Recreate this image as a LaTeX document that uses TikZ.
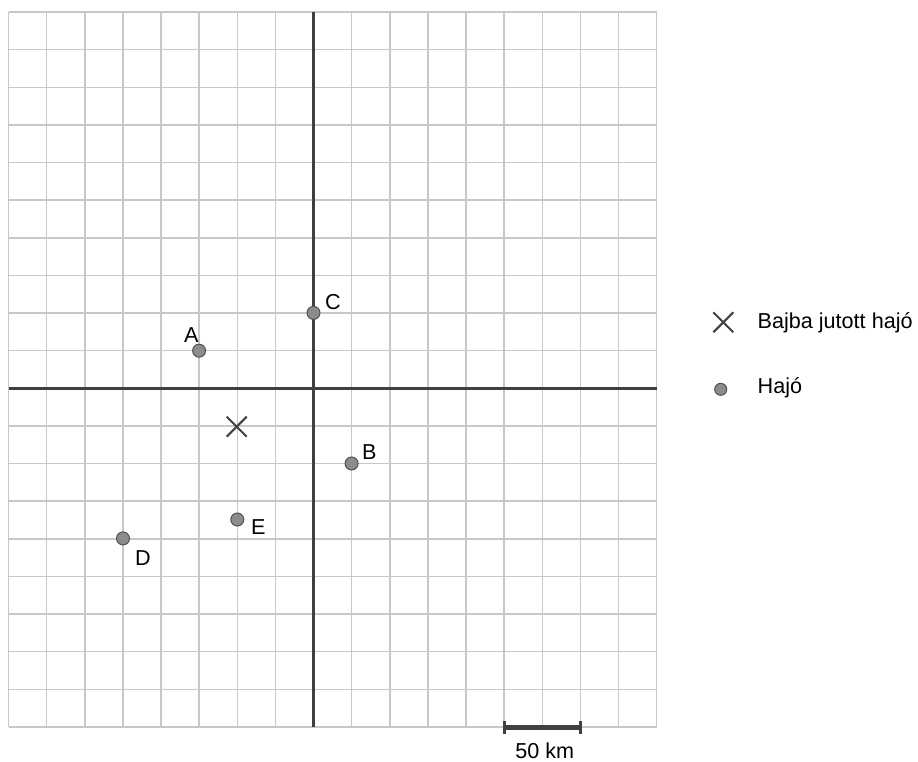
\documentclass[tikz,border=0pt]{standalone}
\usepackage{fontspec}
\setmainfont{Liberation Sans}
\definecolor{gridc}{HTML}{C8C8C8}
\definecolor{axisc}{HTML}{404040}
\definecolor{dotfill}{HTML}{8C8C8C}
\definecolor{dotline}{HTML}{505050}
\begin{document}
\begin{tikzpicture}[x=1pt,y=-1pt,
  gridline/.style={draw=gridc,line width=1.5pt},
  axisline/.style={draw=axisc,line width=2.6pt},
  ship/.style={circle,fill=dotfill,draw=dotline,line width=1pt,minimum size=13pt,inner sep=0pt},
  lbl/.style={anchor=base west,inner sep=0pt,font=\fontsize{21.6}{26}\selectfont},
  crossmark/.style={draw=axisc,line width=2pt},
  barline/.style={draw=axisc,line width=5pt},
  tickline/.style={draw=axisc,line width=3pt}]
\useasboundingbox (0,0) rectangle (918,762);
\fill[white] (0,0) rectangle (918,762);
% grid
\foreach \i in {0,...,17}{
  \draw[gridline] ({8.5+38.13*\i},12) -- ({8.5+38.13*\i},727);
}
\foreach \j in {0,...,19}{
  \draw[gridline] (8.5,{12+37.63*\j}) -- (656.7,{12+37.63*\j});
}
% axes
\draw[axisline] (313.5,12) -- (313.5,727);
\draw[axisline] (8.5,388.3) -- (656.7,388.3);
% distressed ship
\coordinate (X) at (236.7,426.7);
\draw[crossmark] ([shift={(-10,-10)}]X) -- ([shift={(10,10)}]X);
\draw[crossmark] ([shift={(-10,10)}]X) -- ([shift={(10,-10)}]X);
% ships
\node[ship] (C) at (313.5,312.9) {};
\node[ship] (A) at (199.1,350.7) {};
\node[ship] (B) at (351.6,463.5) {};
\node[ship] (E) at (237.3,519.5) {};
\node[ship] (D) at (123.0,538.4) {};
\node[lbl] (lC) at (325,309.7) {C};
\node[lbl] (lA) at (184,342.3) {A};
\node[lbl] (lB) at (362,459) {B};
\node[lbl] (lE) at (251,534) {E};
\node[lbl] (lD) at (135,565) {D};
% scale bar
\coordinate (s1) at (504.2,727);
\coordinate (s2) at (580.5,727);
\draw[barline] (s1) -- (s2);
\draw[tickline] ([yshift=-6.5]s1) -- ([yshift=6.5]s1);
\draw[tickline] ([yshift=-6.5]s2) -- ([yshift=6.5]s2);
\node[lbl,anchor=base] (sl) at (544.7,758.3) {50 km};
% legend
\coordinate (LX) at (723.3,322.3);
\draw[crossmark] ([shift={(-10,-10)}]LX) -- ([shift={(10,10)}]LX);
\draw[crossmark] ([shift={(-10,10)}]LX) -- ([shift={(10,-10)}]LX);
\node[lbl] (tX) at (757.5,328.3) {Bajba jutott hajó};
\node[ship,minimum size=12pt] (LD) at (720.7,389.3) {};
\node[lbl] (tD) at (757.5,393.3) {Hajó};
\end{tikzpicture}
\end{document}
